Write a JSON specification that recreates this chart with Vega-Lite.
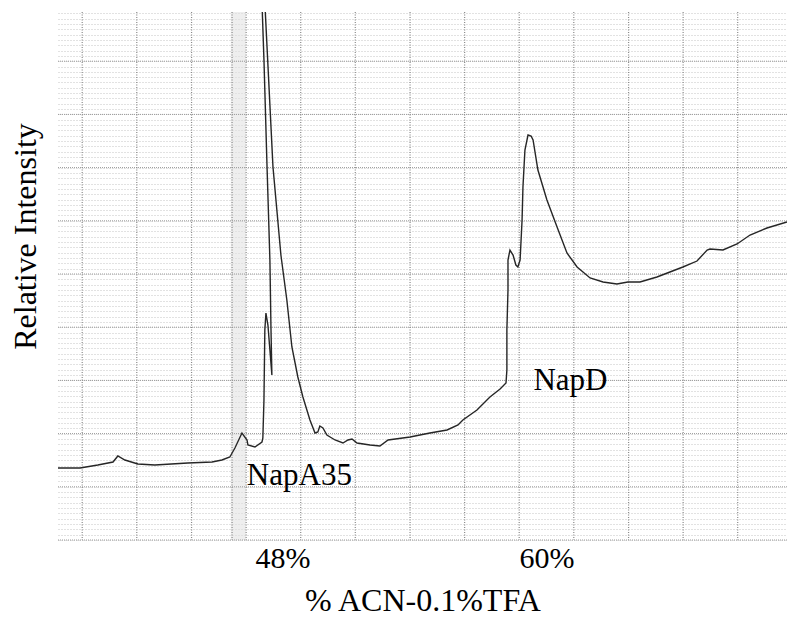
{
  "$schema": "https://vega.github.io/schema/vega-lite/v6.json",
  "width": 729,
  "height": 528,
  "autosize": "none",
  "padding": {"left": 58, "top": 12, "right": 0, "bottom": 78},
  "background": "#ffffff",
  "config": {
    "font": "Liberation Serif",
    "view": {"stroke": null},
    "axisX": {"grid": false, "ticks": false, "domain": false, "labelFont": "Liberation Serif", "labelFontSize": 30, "labelColor": "#000000", "labelBaseline": "alphabetic", "labelPadding": 27, "labelFlush": false, "titleFont": "Liberation Serif", "titleFontSize": 32, "titleFontWeight": "normal", "titleColor": "#000000", "titleBaseline": "alphabetic", "titleY": 70},
    "axisY": {"grid": true, "gridColor": "#c4c4c4", "gridDash": [1, 2], "gridWidth": 1, "ticks": false, "domain": false, "labels": false, "titleFont": "Liberation Serif", "titleFontSize": 32, "titleFontWeight": "normal", "titleColor": "#000000", "titleBaseline": "alphabetic", "titleAngle": -90, "titleAlign": "center", "titleX": -23, "titleY": 224}
  },
  "datasets": {
    "trace": [
      {"i": 1, "acn": 37.80, "intensity": 13.53},
      {"i": 2, "acn": 38.80, "intensity": 13.53},
      {"i": 3, "acn": 39.61, "intensity": 14.10},
      {"i": 4, "acn": 40.30, "intensity": 14.66},
      {"i": 5, "acn": 40.52, "intensity": 15.79},
      {"i": 6, "acn": 40.84, "intensity": 15.04},
      {"i": 7, "acn": 41.43, "intensity": 14.29},
      {"i": 8, "acn": 42.20, "intensity": 14.10},
      {"i": 9, "acn": 43.70, "intensity": 14.47},
      {"i": 10, "acn": 44.80, "intensity": 14.66},
      {"i": 11, "acn": 45.25, "intensity": 15.04},
      {"i": 12, "acn": 45.61, "intensity": 15.60},
      {"i": 13, "acn": 45.84, "intensity": 17.29},
      {"i": 14, "acn": 46.16, "intensity": 20.11},
      {"i": 15, "acn": 46.39, "intensity": 18.80},
      {"i": 16, "acn": 46.43, "intensity": 17.86},
      {"i": 17, "acn": 46.75, "intensity": 17.48},
      {"i": 18, "acn": 47.07, "intensity": 18.42},
      {"i": 19, "acn": 47.11, "intensity": 19.17},
      {"i": 20, "acn": 47.16, "intensity": 26.32},
      {"i": 21, "acn": 47.20, "intensity": 39.47},
      {"i": 22, "acn": 47.25, "intensity": 42.67},
      {"i": 23, "acn": 47.34, "intensity": 40.41},
      {"i": 24, "acn": 47.43, "intensity": 35.71},
      {"i": 25, "acn": 47.52, "intensity": 31.02},
      {"i": 26, "acn": 47.48, "intensity": 39.47},
      {"i": 27, "acn": 47.43, "intensity": 52.63},
      {"i": 28, "acn": 47.30, "intensity": 70.11},
      {"i": 29, "acn": 47.16, "intensity": 90.23},
      {"i": 30, "acn": 47.07, "intensity": 101.0},
      {"i": 31, "acn": 47.20, "intensity": 101.0},
      {"i": 32, "acn": 47.57, "intensity": 70.11},
      {"i": 33, "acn": 47.93, "intensity": 53.57},
      {"i": 34, "acn": 48.20, "intensity": 45.11},
      {"i": 35, "acn": 48.43, "intensity": 36.28},
      {"i": 36, "acn": 48.70, "intensity": 30.64},
      {"i": 37, "acn": 48.93, "intensity": 26.88},
      {"i": 38, "acn": 49.25, "intensity": 22.56},
      {"i": 39, "acn": 49.48, "intensity": 20.11},
      {"i": 40, "acn": 49.61, "intensity": 20.30},
      {"i": 41, "acn": 49.70, "intensity": 21.43},
      {"i": 42, "acn": 49.84, "intensity": 21.05},
      {"i": 43, "acn": 50.02, "intensity": 19.74},
      {"i": 44, "acn": 50.39, "intensity": 18.80},
      {"i": 45, "acn": 50.75, "intensity": 18.23},
      {"i": 46, "acn": 50.98, "intensity": 18.80},
      {"i": 47, "acn": 51.16, "intensity": 18.98},
      {"i": 48, "acn": 51.39, "intensity": 18.23},
      {"i": 49, "acn": 51.98, "intensity": 17.86},
      {"i": 50, "acn": 52.43, "intensity": 17.67},
      {"i": 51, "acn": 52.80, "intensity": 18.80},
      {"i": 52, "acn": 53.80, "intensity": 19.36},
      {"i": 53, "acn": 54.70, "intensity": 20.11},
      {"i": 54, "acn": 55.48, "intensity": 20.68},
      {"i": 55, "acn": 55.98, "intensity": 21.62},
      {"i": 56, "acn": 56.20, "intensity": 22.56},
      {"i": 57, "acn": 56.84, "intensity": 24.44},
      {"i": 58, "acn": 57.43, "intensity": 26.88},
      {"i": 59, "acn": 57.89, "intensity": 28.38},
      {"i": 60, "acn": 58.16, "intensity": 29.51},
      {"i": 61, "acn": 58.20, "intensity": 31.95},
      {"i": 62, "acn": 58.20, "intensity": 39.47},
      {"i": 63, "acn": 58.25, "intensity": 46.99},
      {"i": 64, "acn": 58.25, "intensity": 52.63},
      {"i": 65, "acn": 58.34, "intensity": 54.51},
      {"i": 66, "acn": 58.48, "intensity": 53.57},
      {"i": 67, "acn": 58.61, "intensity": 51.69},
      {"i": 68, "acn": 58.70, "intensity": 51.32},
      {"i": 69, "acn": 58.80, "intensity": 52.63},
      {"i": 70, "acn": 58.89, "intensity": 60.15},
      {"i": 71, "acn": 58.93, "intensity": 66.35},
      {"i": 72, "acn": 59.02, "intensity": 73.31},
      {"i": 73, "acn": 59.16, "intensity": 76.13},
      {"i": 74, "acn": 59.30, "intensity": 75.94},
      {"i": 75, "acn": 59.39, "intensity": 75.19},
      {"i": 76, "acn": 59.61, "intensity": 69.55},
      {"i": 77, "acn": 60.02, "intensity": 63.91},
      {"i": 78, "acn": 60.48, "intensity": 58.83},
      {"i": 79, "acn": 60.93, "intensity": 53.95},
      {"i": 80, "acn": 61.39, "intensity": 51.32},
      {"i": 81, "acn": 61.98, "intensity": 49.25},
      {"i": 82, "acn": 62.57, "intensity": 48.50},
      {"i": 83, "acn": 63.20, "intensity": 48.12},
      {"i": 84, "acn": 63.70, "intensity": 48.50},
      {"i": 85, "acn": 64.25, "intensity": 48.50},
      {"i": 86, "acn": 65.02, "intensity": 49.44},
      {"i": 87, "acn": 65.61, "intensity": 50.38},
      {"i": 88, "acn": 66.20, "intensity": 51.32},
      {"i": 89, "acn": 66.84, "intensity": 52.44},
      {"i": 90, "acn": 67.30, "intensity": 54.51},
      {"i": 91, "acn": 67.43, "intensity": 54.70},
      {"i": 92, "acn": 68.02, "intensity": 54.51},
      {"i": 93, "acn": 68.66, "intensity": 55.64},
      {"i": 94, "acn": 69.25, "intensity": 57.33},
      {"i": 95, "acn": 70.02, "intensity": 58.65},
      {"i": 96, "acn": 70.93, "intensity": 59.77}
    ],
    "vgrid": [
      {"acn": 38.90}, {"acn": 41.38}, {"acn": 43.87}, {"acn": 45.71}, {"acn": 46.35},
      {"acn": 48.83}, {"acn": 51.31}, {"acn": 53.80}, {"acn": 56.28}, {"acn": 58.76},
      {"acn": 61.24}, {"acn": 63.73}, {"acn": 66.21}, {"acn": 68.69}
    ],
    "hgrid": [
      {"intensity": 0}, {"intensity": 10}, {"intensity": 20}, {"intensity": 30}, {"intensity": 40},
      {"intensity": 50}, {"intensity": 60}, {"intensity": 70}, {"intensity": 80}, {"intensity": 90}
    ],
    "band": [{"acn": 45.65, "acn2": 46.35}],
    "labels": [
      {"acn": 48.77, "intensity": 10.34, "label": "NapA35"},
      {"acn": 61.09, "intensity": 28.20, "label": "NapD"}
    ]
  },
  "layer": [
    {
      "data": {"name": "band"},
      "mark": {"type": "rect", "fill": "#e2e2e2", "opacity": 0.6},
      "encoding": {
        "x": {"field": "acn", "type": "quantitative", "scale": {"domain": [37.8, 70.93], "nice": false, "zero": false}, "axis": {"title": "% ACN-0.1%TFA", "values": [48, 60], "labelExpr": "datum.value + '%'"}},
        "x2": {"field": "acn2"}
      }
    },
    {
      "data": {"name": "hgrid"},
      "mark": {"type": "rule", "stroke": "#9a9a9a", "strokeDash": [1, 1], "strokeWidth": 1},
      "encoding": {
        "y": {"field": "intensity", "type": "quantitative", "scale": {"domain": [0, 99.25], "nice": false, "zero": false}, "axis": {"title": "Relative Intensity", "tickCount": 100}}
      }
    },
    {
      "data": {"name": "vgrid"},
      "mark": {"type": "rule", "stroke": "#8a8a8a", "strokeDash": [1, 1.5], "strokeWidth": 1.2},
      "encoding": {
        "x": {"field": "acn", "type": "quantitative", "scale": {"domain": [37.8, 70.93], "nice": false, "zero": false}, "axis": {"title": "% ACN-0.1%TFA", "values": [48, 60], "labelExpr": "datum.value + '%'"}}
      }
    },
    {
      "data": {"name": "trace"},
      "mark": {"type": "line", "stroke": "#262626", "strokeWidth": 1.4, "clip": true},
      "encoding": {
        "x": {"field": "acn", "type": "quantitative", "scale": {"domain": [37.8, 70.93], "nice": false, "zero": false}, "axis": {"title": "% ACN-0.1%TFA", "values": [48, 60], "labelExpr": "datum.value + '%'"}},
        "y": {"field": "intensity", "type": "quantitative", "scale": {"domain": [0, 99.25], "nice": false, "zero": false}, "axis": {"title": "Relative Intensity", "tickCount": 100}},
        "order": {"field": "i", "type": "quantitative"}
      }
    },
    {
      "data": {"name": "labels"},
      "mark": {"type": "text", "font": "Liberation Serif", "fontSize": 31, "color": "#000000", "align": "center", "baseline": "alphabetic"},
      "encoding": {
        "x": {"field": "acn", "type": "quantitative", "scale": {"domain": [37.8, 70.93], "nice": false, "zero": false}, "axis": {"title": "% ACN-0.1%TFA", "values": [48, 60], "labelExpr": "datum.value + '%'"}},
        "y": {"field": "intensity", "type": "quantitative", "scale": {"domain": [0, 99.25], "nice": false, "zero": false}, "axis": {"title": "Relative Intensity", "tickCount": 100}},
        "text": {"field": "label", "type": "nominal"}
      }
    }
  ]
}
